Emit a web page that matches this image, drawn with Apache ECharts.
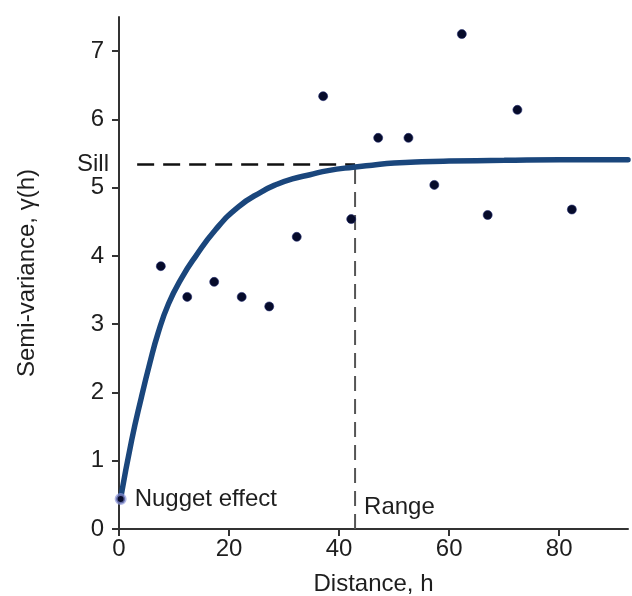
<!DOCTYPE html>
<html>
<head>
<meta charset="utf-8">
<script src="https://cdn.jsdelivr.net/npm/echarts@6/dist/echarts.min.js"></script>
<style>html,body{margin:0;padding:0;background:#fff}#c{width:632px;height:596px}</style>
</head>
<body>
<div id="c"></div>
<script>
// Empirical semivariance points
const distance = [7.6, 12.4, 17.3, 22.3, 27.3, 32.3, 37.1, 42.2, 47.1, 52.6, 57.3, 62.3, 67.0, 72.4, 82.3];
const semivariance = [3.85, 3.40, 3.62, 3.40, 3.26, 4.28, 6.34, 4.54, 5.73, 5.73, 5.04, 7.25, 4.60, 6.14, 4.68];
// Fitted model curve
const modelX = [0.3, 2.3, 4.1, 5.6, 7.1, 9.0, 11.4, 13.8, 17.5, 21.7, 25.9, 28.7, 31.5, 34.7, 38.0, 42.5, 46.0, 50.0, 55.0, 60.0, 70.0, 80.0, 92.5];
const modelY = [0.45, 1.30, 1.94, 2.43, 2.87, 3.30, 3.68, 3.98, 4.38, 4.72, 4.94, 5.05, 5.13, 5.19, 5.25, 5.30, 5.33, 5.36, 5.38, 5.39, 5.40, 5.41, 5.41];
const nugget = [0.3, 0.44];
const sill = 5.34;
const rangeH = 42.9;
const sillStart = 3.3;
const xTicks = [0, 20, 40, 60, 80];
const yTicks = [0, 1, 2, 3, 4, 5, 6, 7];

const FONT = '"Liberation Sans", Arial, Helvetica, sans-serif';
const TXT = '#1e1e1e';
const chart = echarts.init(document.getElementById('c'));
chart.setOption({
  backgroundColor: '#fff',
  animation: false,
  grid: { left: 119, right: 4, top: 17, bottom: 67, containLabel: false, outerBoundsMode: 'none' },
  xAxis: {
    type: 'value', min: 0, max: 92.5, interval: 20,
    name: 'Distance, h', nameLocation: 'middle', nameGap: 43,
    nameTextStyle: { fontFamily: FONT, fontSize: 24, color: TXT },
    axisLine: { lineStyle: { color: '#333', width: 2 } },
    axisTick: { show: true, length: 7, customValues: xTicks, lineStyle: { color: '#333', width: 2 } },
    axisLabel: { fontFamily: FONT, fontSize: 24, color: TXT, margin: 8, customValues: xTicks,
      formatter: v => xTicks.includes(v) ? String(v) : '' },
    splitLine: { show: false }
  },
  yAxis: {
    type: 'value', min: 0, max: 7.5, interval: 1,
    name: 'Semi-variance, \u03b3(h)', nameLocation: 'middle', nameGap: 80,
    nameTextStyle: { fontFamily: FONT, fontSize: 24, color: TXT },
    axisLine: { show: true, lineStyle: { color: '#333', width: 2 } },
    axisTick: { show: true, length: 7, customValues: yTicks, lineStyle: { color: '#333', width: 2 } },
    axisLabel: { fontFamily: FONT, fontSize: 24, color: TXT, margin: 15, customValues: yTicks,
      formatter: v => yTicks.includes(v) ? String(v) : '' },
    splitLine: { show: false }
  },
  series: [
    {
      type: 'line', silent: true, symbol: 'none',
      data: [[sillStart, sill], [rangeH, sill]],
      lineStyle: { color: '#111', width: 2.5, type: [17, 9] },
      z: 2
    },
    {
      type: 'line', silent: true, symbol: 'none',
      data: [[rangeH, 0], [rangeH, sill]],
      lineStyle: { color: '#555', width: 2, type: [15, 8] },
      z: 2
    },
    {
      type: 'line', smooth: 0.5, symbol: 'none',
      data: modelX.map((x, i) => [x, modelY[i]]),
      lineStyle: { color: '#1a467c', width: 5.5, cap: 'round' },
      z: 3
    },
    {
      type: 'scatter', symbolSize: 9,
      data: distance.map((x, i) => [x, semivariance[i]]),
      itemStyle: { color: '#060b2a', borderColor: 'rgba(30,40,110,0.6)', borderWidth: 1, opacity: 1 },
      z: 4
    },
    {
      type: 'scatter', symbolSize: 9,
      data: [nugget],
      itemStyle: { color: '#060b2a', borderColor: 'rgba(140,150,220,0.7)', borderWidth: 3, opacity: 1 },
      label: { show: true, position: 'right', distance: 8, formatter: 'Nugget effect',
        fontFamily: FONT, fontSize: 24, color: TXT, textBorderWidth: 0, opacity: 1 },
      z: 5
    },
    {
      type: 'scatter', symbolSize: 0, silent: true,
      data: [
        { value: [rangeH, 0.32], label: { position: 'right', distance: 9, formatter: 'Range' } },
        { value: [0, sill], label: { position: 'left', distance: 10, formatter: 'Sill' } }
      ],
      label: { show: true, fontFamily: FONT, fontSize: 24, color: TXT, textBorderWidth: 0, opacity: 1 },
      z: 5
    }
  ]
});
</script>
</body>
</html>
